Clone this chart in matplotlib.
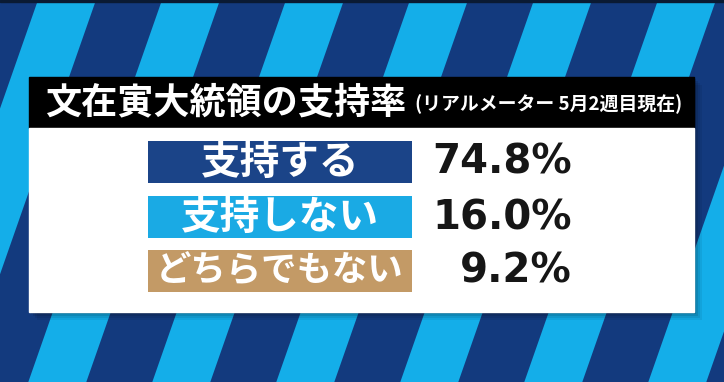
import matplotlib
matplotlib.use("Agg")
import matplotlib.pyplot as plt
from matplotlib.patches import Polygon, Rectangle

# data
title = "文在寅大統領の支持率"
subtitle = "(リアルメーター 5月2週目現在)"
categories = ["支持する", "支持しない", "どちらでもない"]
values = [74.8, 16.0, 9.2]
bar_colors = ["#1b4488", "#1aaae4", "#c39a66"]

# colours
dark_blue = "#133a7e"
light_blue = "#14aee9"

plt.rcParams['font.family'] = ['Noto Sans CJK JP', 'DejaVu Sans']

W, H = 724, 382
fig = plt.figure(figsize=(W / 100, H / 100), dpi=100)
ax = fig.add_axes([0, 0, 1, 1])
ax.set_xlim(0, W)
ax.set_ylim(H, 0)
ax.axis("off")

# striped background
ax.add_patch(Rectangle((0, 0), W, H, color=dark_blue, zorder=0))
slope = 0.35
for k in range(-2, 9):
    x0 = 38 + 124 * k
    pts = [(x0, 0), (x0 + 58, 0), (x0 + 58 - slope * H, H), (x0 - slope * H, H)]
    ax.add_patch(Polygon(pts, closed=True, color=light_blue, lw=0, zorder=1))
ax.add_patch(Rectangle((0, 0), W, 2, color="#0a1a33", zorder=1))

# panel shadow
for i, a in enumerate([0.12, 0.10, 0.08, 0.06]):
    ax.add_patch(Rectangle((29 + 2 + 2 * i, 77 + 2 + 2 * i), 665, 235, color="black",
                           alpha=a, lw=0, zorder=2))

# title bar + white panel
ax.add_patch(Rectangle((29, 77), 665, 51, color="black", zorder=3))
ax.add_patch(Rectangle((29, 128), 665, 184, color="white", zorder=3))

ax.text(45, 103, title, color="white", fontsize=26, fontweight="bold",
        ha="left", va="center", zorder=5)
ax.text(415, 104, subtitle, color="white", fontsize=13.6, fontweight="bold",
        ha="left", va="center", zorder=5)

# label boxes and values
ys = [162, 217, 270.5]
label_sizes = [28.5, 28.5, 25.5]
ax.barh(ys, [264] * len(categories), left=148, height=42, color=bar_colors, zorder=4)
for y, cat, v, fs in zip(ys, categories, values, label_sizes):
    ax.text(280, y, cat, color="white", fontsize=fs, fontweight="bold",
            ha="center", va="center", zorder=5)
    ax.text(572, y + 1, f"{v:.1f}%", color="#161616", fontsize=29, fontweight="bold",
            family="DejaVu Sans", ha="right", va="center", zorder=5)

fig.savefig("out.png", dpi=100)
